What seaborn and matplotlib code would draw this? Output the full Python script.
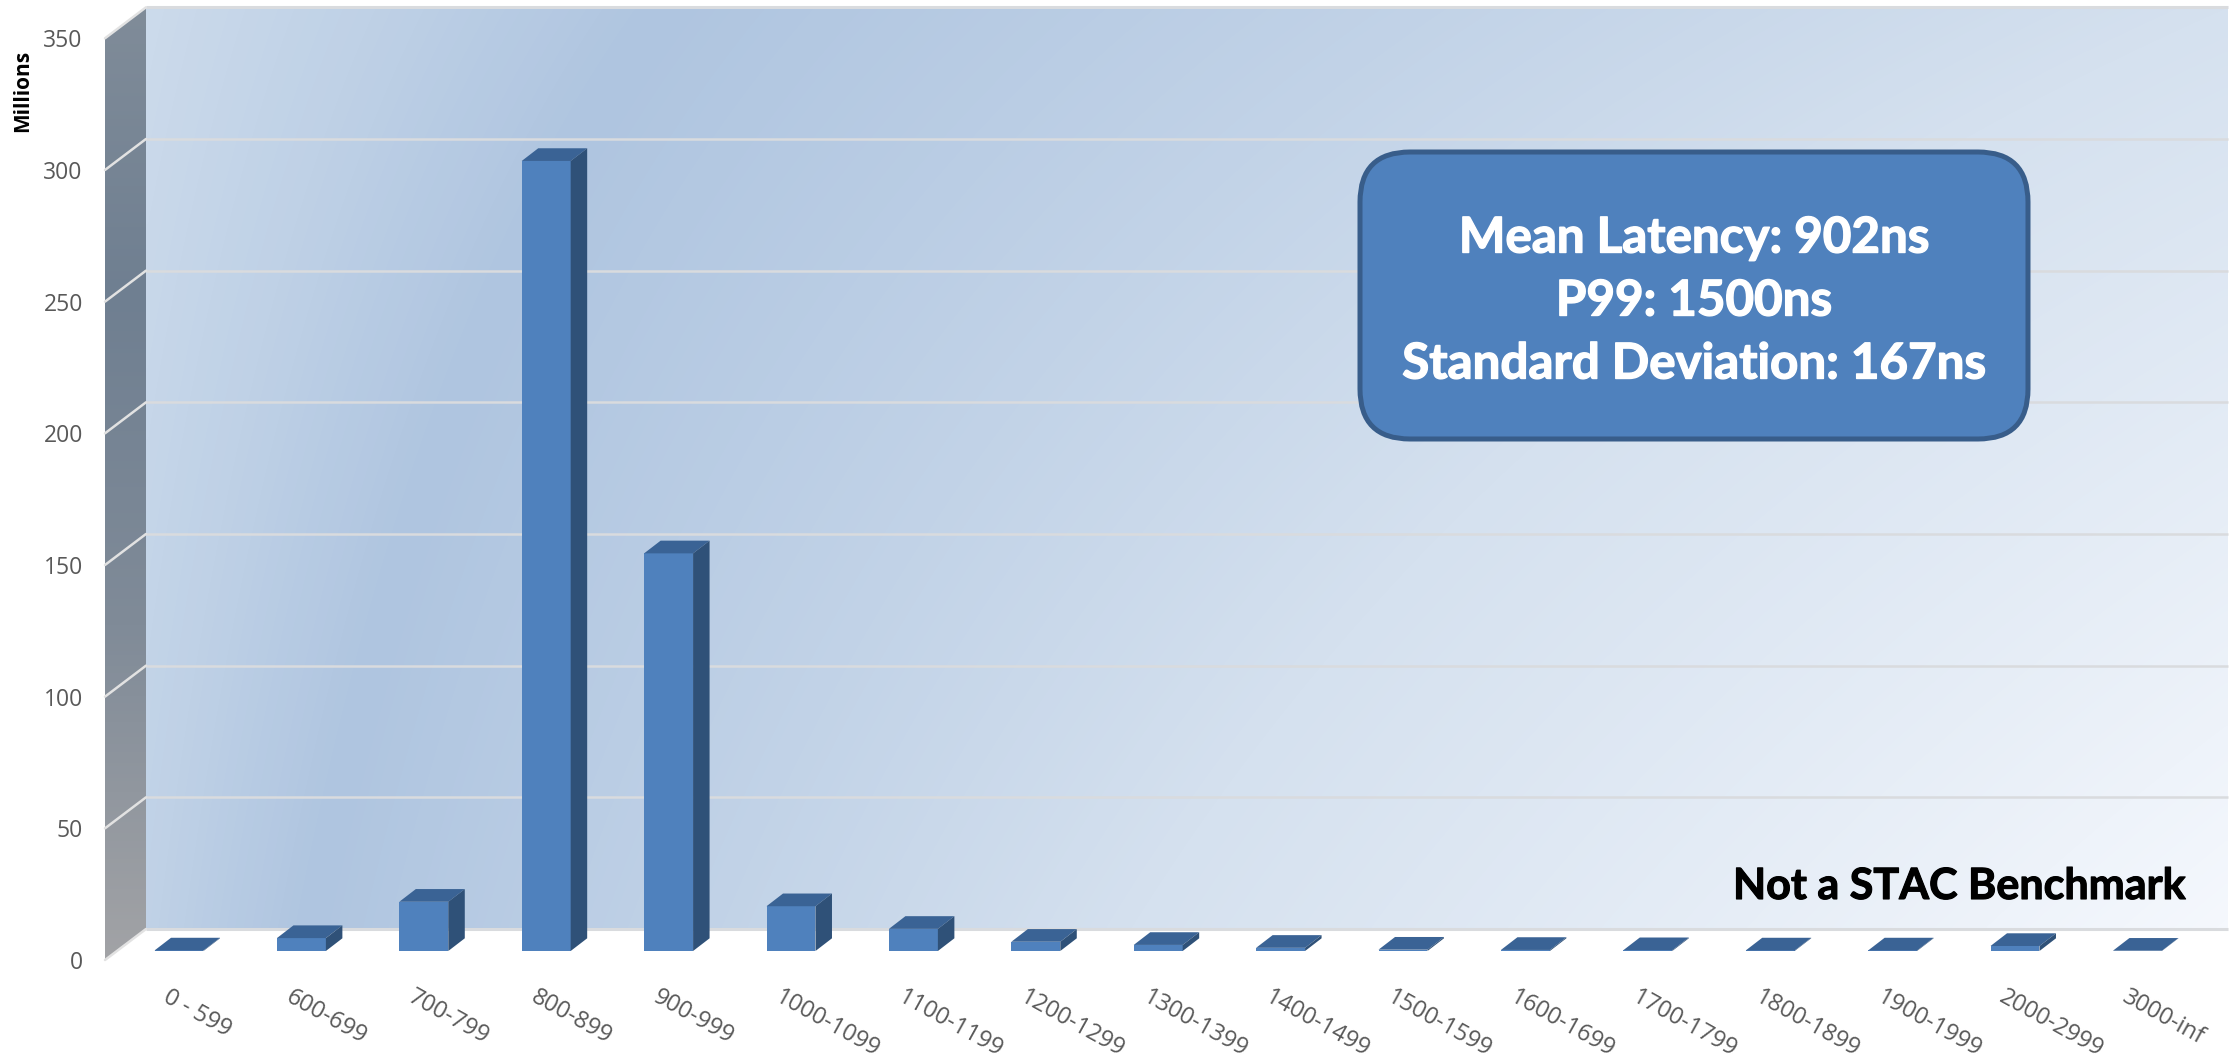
import numpy as np
import pandas as pd
import matplotlib
matplotlib.use("Agg")
import matplotlib.pyplot as plt
import matplotlib.patheffects as pe
from matplotlib.colors import LinearSegmentedColormap
from matplotlib.patches import FancyBboxPatch, Polygon
from matplotlib.transforms import Affine2D, IdentityTransform
import seaborn as sns

# ---- data ----
categories = ["0 - 599", "600-699", "700-799", "800-899", "900-999", "1000-1099",
              "1100-1199", "1200-1299", "1300-1399", "1400-1499", "1500-1599",
              "1600-1699", "1700-1799", "1800-1899", "1900-1999", "2000-2999", "3000-inf"]
millions = [0.2, 4.9, 18.7, 300, 151, 17, 8.4, 3.5, 2.3, 1.2, 0.5, 0.4, 0.3, 0.2, 0.2, 1.9, 0.1]
y_ticks = [0, 50, 100, 150, 200, 250, 300, 350]
stats_lines = ["Mean Latency: 902ns", "P99: 1500ns", "Standard Deviation: 167ns"]
note = "Not a STAC Benchmark"

# ---- geometry (pixels) ----
W, H = 2239, 1061
FRONT_L, FRONT_R = 105, 2187
Y0, Y350 = 960, 38.3
WALL_DX, WALL_DY = 41, 31
BAR_LIFT = 9
BAR_DX, BAR_DY = 16.5, 12.7
C0, STEP = 179, 122.4

sns.set_theme(style="white")
plt.rcParams["font.family"] = ["Open Sans", "DejaVu Sans"]

fig = plt.figure(figsize=(W / 100, H / 100), dpi=100, facecolor="white")

# background layer in pixel coordinates
bg = fig.add_axes([0, 0, 1, 1], zorder=0)
bg.set_xlim(0, W); bg.set_ylim(H, 0); bg.axis("off")

wall_l, wall_r = FRONT_L + WALL_DX, 2228
wall_t, wall_b = Y350 - WALL_DY, Y0 - WALL_DY
xx, yy = np.meshgrid(np.linspace(0, 1, 500), np.linspace(0, 1, 250))
u = xx + yy * (0.1 + 0.9 * xx)
stops = [0, 0.24, 1.0, 2.0]
wall_cmap = LinearSegmentedColormap.from_list(
    "wall", [(s / 2.0, c) for s, c in zip(stops, ["#cbdaeb", "#afc5e0", "#d5e1ef", "#f5f8fd"])])
bg.imshow(u, cmap=wall_cmap, vmin=0, vmax=2, extent=(wall_l, wall_r, wall_b, wall_t),
          aspect="auto", interpolation="bilinear", zorder=1)

side_cmap = LinearSegmentedColormap.from_list(
    "side", [(0, "#808c99"), (0.3, "#6f7f91"), (0.65, "#808b98"), (1, "#a2a3a6")])
side = bg.imshow(np.linspace(0, 1, 256)[:, None], cmap=side_cmap,
                 extent=(FRONT_L, wall_l, Y0, wall_t), aspect="auto", zorder=1)
side_poly = Polygon([(FRONT_L, Y350), (wall_l, wall_t), (wall_l, wall_b), (FRONT_L, Y0)],
                    closed=True, fc="none", ec="none", transform=bg.transData)
bg.add_patch(side_poly)
side.set_clip_path(side_poly)
bg.set_xlim(0, W); bg.set_ylim(H, 0)

# main chart axes: the front plane of the 3D box
ax = fig.add_axes([FRONT_L / W, (H - Y0) / H, (FRONT_R - FRONT_L) / W, (Y0 - Y350) / H],
                  zorder=1, facecolor="none")
df = pd.DataFrame({"range": categories, "millions": millions})
sns.barplot(data=df, x="range", y="millions", color="#4f81bd", saturation=1, width=0.4,
            linewidth=0, edgecolor="none", ax=ax, zorder=5)
ax.set_xlim((FRONT_L - C0) / STEP, (FRONT_R - C0) / STEP)
ax.set_ylim(0, 350)
ax.set_xlabel("")
for s in ax.spines.values():
    s.set_visible(False)

# gridlines: on the side wall and the back wall
back = ax.transData + Affine2D().translate(WALL_DX, WALL_DY)
x_l, x_r = ax.get_xlim()
x_far = x_l + (wall_r - wall_l) / STEP
for v in y_ticks:
    lw = 2.2 if v in (0, 350) else 1.8
    ax.plot([x_l, x_far], [v, v], color="#d9dbde", lw=lw, transform=back, clip_on=False,
            zorder=2, solid_capstyle="butt")
    p0 = ax.transData.transform((x_l, v))
    ax.plot([p0[0], p0[0] + WALL_DX], [p0[1], p0[1] + WALL_DY], color="#e2e2e2", lw=1.8,
            transform=IdentityTransform(), clip_on=False, zorder=3)

# 3D faces for each bar, built from the bars themselves
lift = Affine2D().translate(0, BAR_LIFT)
fig.canvas.draw()
for bar in ax.patches:
    x0, x1 = bar.get_x(), bar.get_x() + bar.get_width()
    h = bar.get_height()
    (px0, py0), (px1, py1) = ax.transData.transform([(x0, 0), (x1, h)])
    py0 += BAR_LIFT; py1 += BAR_LIFT
    top = [(px0, py1), (px1, py1), (px1 + BAR_DX, py1 + BAR_DY), (px0 + BAR_DX, py1 + BAR_DY)]
    right = [(px1, py0), (px1 + BAR_DX, py0 + BAR_DY), (px1 + BAR_DX, py1 + BAR_DY), (px1, py1)]
    ax.add_patch(Polygon(top, closed=True, fc="#3a6395", ec="none", transform=IdentityTransform(),
                         clip_on=False, zorder=6))
    ax.add_patch(Polygon(right, closed=True, fc="#2f5178", ec="none", transform=IdentityTransform(),
                         clip_on=False, zorder=6))
    bar.set_transform(ax.transData + lift)
    bar.set_clip_on(False)

# axis text
ax.set_yticks(y_ticks)
ax.tick_params(axis="y", length=0, pad=16, labelsize=16.5, labelcolor="#595959")
ax.tick_params(axis="x", length=0, pad=18, labelsize=17, labelcolor="#595959")
ax.set_xticks(range(len(categories)))
ax.set_xticklabels(categories, rotation=-29, ha="left", va="top", rotation_mode="anchor")
for lab in ax.get_xticklabels():
    lab.set_transform(lab.get_transform() + Affine2D().translate(-8, 0))
ax.set_ylabel("Millions", fontsize=15, fontweight="bold", color="black", va="center")
ax.yaxis.set_label_coords((23 - FRONT_L) / (FRONT_R - FRONT_L), (Y0 - 91) / (Y0 - Y350))

# overlay layer in pixel coordinates
ov = fig.add_axes([0, 0, 1, 1], zorder=2, facecolor="none")
ov.set_xlim(0, W); ov.set_ylim(H, 0); ov.axis("off")
ov.add_patch(FancyBboxPatch((1360, 152), 668, 287, boxstyle="round,pad=0,rounding_size=50",
                            fc="#4f81bd", ec="#385d8a", lw=3.6))
for line, y in zip(stats_lines, [238, 301, 364]):
    t = ov.text(1694, y, line, color="white", ha="center", va="center", fontsize=35.5,
                fontweight="bold", family=["Lato", "DejaVu Sans"])
    t.set_path_effects([pe.withStroke(linewidth=1.0, foreground="white")])
t = ov.text(2185, 886, note, color="black", ha="right", va="center", fontsize=31,
            fontweight="bold", family=["Lato", "DejaVu Sans"])
t.set_path_effects([pe.withStroke(linewidth=0.8, foreground="black")])

fig.savefig("out.png", dpi=100, facecolor="white")
